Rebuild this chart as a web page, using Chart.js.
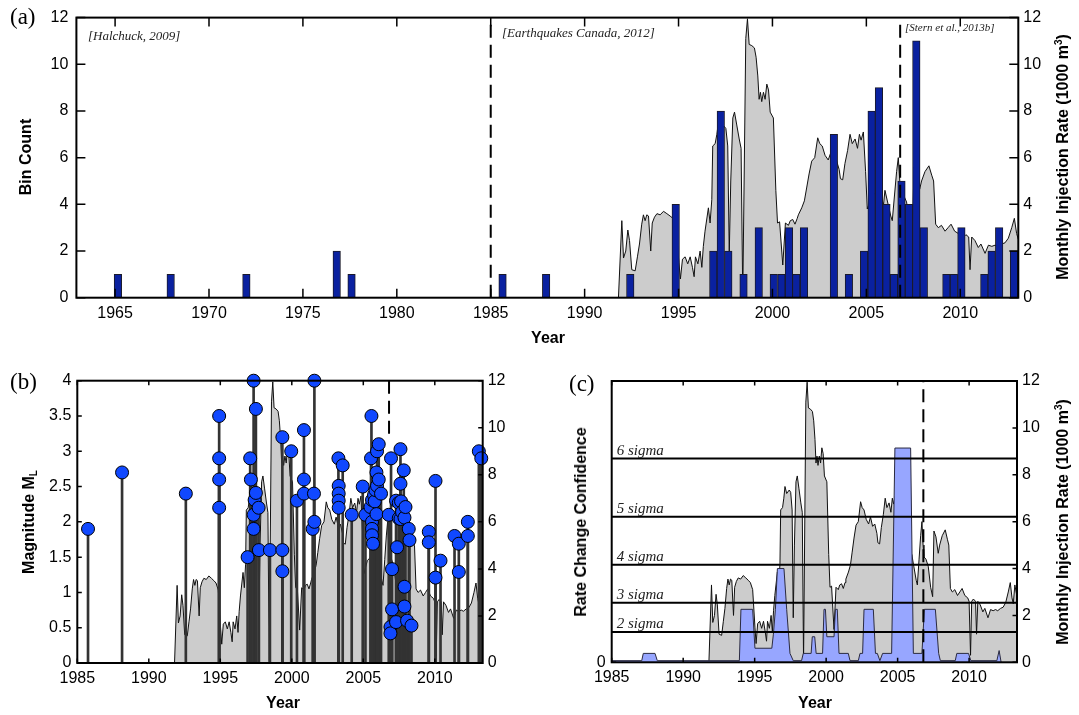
<!DOCTYPE html>
<html>
<head>
<meta charset="utf-8">
<script src="https://cdn.jsdelivr.net/npm/chart.js@4.4.1/dist/chart.umd.min.js"></script>
<style>
  body { margin: 0; width: 1079px; height: 715px; background: #fff; position: relative; overflow: hidden; font-family: 'Liberation Sans', Arial, sans-serif; }
  canvas { position: absolute; }
  .lbl { position: absolute; white-space: nowrap; line-height: 1; color: #000; }
  .panel { font-family: 'Liberation Serif', serif; font-size: 23px; }
  .ttl { font-weight: bold; font-size: 16px; transform: translate(-50%, -50%); }
  .rot { transform: translate(-50%, -50%) rotate(-90deg); }
  .cite { font-family: 'Liberation Serif', serif; font-style: italic; font-size: 13px; color: #222; }
  .sig { font-family: 'Liberation Serif', serif; font-style: italic; font-size: 15px; color: #222; }
  sup { font-size: 10px; vertical-align: 6px; }
  sub { font-size: 10px; vertical-align: -3px; }
</style>
</head>
<body>
<canvas id="chartA" width="1079" height="350" style="left:0;top:0"></canvas>
<canvas id="chartB" width="540" height="355" style="left:0;top:360px"></canvas>
<canvas id="chartC" width="539" height="355" style="left:540px;top:360px"></canvas>

<div class="lbl panel" style="left:10px;top:5px">(a)</div>
<div class="lbl panel" style="left:10px;top:370px">(b)</div>
<div class="lbl panel" style="left:569px;top:372px">(c)</div>

<div class="lbl cite" style="left:88px;top:29px">[Halchuck, 2009]</div>
<div class="lbl cite" style="left:502px;top:26px">[Earthquakes Canada, 2012]</div>
<div class="lbl cite" style="left:905px;top:22px;font-size:11px">[Stern et al., 2013b]</div>

<div class="lbl ttl rot" style="left:26px;top:157px">Bin Count</div>
<div class="lbl ttl" style="left:548px;top:338px">Year</div>
<div class="lbl ttl rot" style="left:1062px;top:157px">Monthly Injection Rate (1000 m<sup>3</sup>)</div>

<div class="lbl ttl rot" style="left:30px;top:522px">Magnitude M<sub>L</sub></div>
<div class="lbl ttl" style="left:283px;top:703px">Year</div>

<div class="lbl ttl rot" style="left:581px;top:522px">Rate Change Confidence</div>
<div class="lbl ttl" style="left:815px;top:703px">Year</div>
<div class="lbl ttl rot" style="left:1062px;top:522px">Monthly Injection Rate (1000 m<sup>3</sup>)</div>

<script>
// ---- data ----
const yearTicksA = [1965, 1970, 1975, 1980, 1985, 1990, 1995, 2000, 2005, 2010]
const yearTicksB = [1985, 1990, 1995, 2000, 2005, 2010]
const countTicks = [0, 2, 4, 6, 8, 10, 12]
const rateTicks = [0, 2, 4, 6, 8, 10, 12]
const magTicks = [0, 0.5, 1, 1.5, 2, 2.5, 3, 3.5, 4]
const confTicks = [0]

const catalogLines = [1985, 2006.8]

// histogram bins (centres, years) and counts
const binCenters = [1965.15, 1967.96, 1971.99, 1976.80, 1977.59, 1985.63, 1987.95, 1992.43, 1994.85, 1996.85,
  1997.25, 1997.65, 1998.46, 1999.27, 2000.07, 2000.48, 2000.88, 2001.27, 2001.68, 2003.27,
  2004.07, 2004.88, 2005.28, 2005.67, 2006.07, 2006.47, 2006.87, 2007.27, 2007.66, 2008.06,
  2009.26, 2009.66, 2010.06, 2011.28, 2011.67, 2012.07, 2012.86]
const binCounts = [1, 1, 1, 2, 1, 1, 1, 1, 4, 2,
  8, 2, 1, 3, 1, 1, 3, 1, 3, 7,
  1, 2, 8, 9, 4, 1, 5, 4, 11, 3,
  1, 1, 3, 1, 2, 3, 2]

// monthly injection rate (1000 m3)
const injYears = [1991.80, 1991.98, 1992.07, 1992.19, 1992.30, 1992.39, 1992.51, 1992.69, 1992.81, 1992.92,
  1993.04, 1993.13, 1993.22, 1993.31, 1993.40, 1993.52, 1993.60, 1993.72, 1993.85, 1994.02,
  1994.20, 1994.38, 1994.55, 1994.70, 1994.86, 1995.02, 1995.10, 1995.21, 1995.35, 1995.49,
  1995.62, 1995.74, 1995.83, 1995.90, 1996.03, 1996.15, 1996.24, 1996.32, 1996.41, 1996.59,
  1996.68, 1996.77, 1996.82, 1996.95, 1997.04, 1997.12, 1997.24, 1997.42, 1997.52, 1997.62,
  1997.70, 1997.78, 1997.89, 1997.98, 1998.10, 1998.23, 1998.33, 1998.42, 1998.58, 1998.67,
  1998.76, 1998.90, 1999.04, 1999.13, 1999.22, 1999.29, 1999.36, 1999.43, 1999.52, 1999.61,
  1999.70, 1999.79, 1999.88, 2000.05, 2000.18, 2000.27, 2000.38, 2000.55, 2000.69, 2000.85,
  2000.95, 2001.08, 2001.20, 2001.32, 2001.38, 2001.56, 2001.70, 2001.82, 2001.95, 2002.09,
  2002.25, 2002.41, 2002.52, 2002.65, 2002.80, 2002.97, 2003.10, 2003.25, 2003.40, 2003.55,
  2003.62, 2003.74, 2003.86, 2004.00, 2004.13, 2004.25, 2004.40, 2004.53, 2004.63, 2004.72,
  2004.84, 2004.96, 2005.05, 2005.28, 2005.51, 2005.75, 2005.91, 2005.99, 2006.13, 2006.30,
  2006.38, 2006.50, 2006.61, 2006.70, 2006.78, 2006.84, 2006.98, 2007.14, 2007.31, 2007.45,
  2007.54, 2007.68, 2007.84, 2007.94, 2008.12, 2008.33, 2008.48, 2008.58, 2008.69, 2008.83,
  2009.00, 2009.19, 2009.35, 2009.51, 2009.70, 2009.90, 2010.00, 2010.10, 2010.18, 2010.30,
  2010.45, 2010.52, 2010.61, 2010.78, 2010.96, 2011.10, 2011.32, 2011.50, 2011.68, 2011.85,
  2012.00, 2012.20, 2012.38, 2012.56, 2012.74, 2012.88, 2013.00, 2013.09, 2013.20, 2013.35]
const injRate = [0.0, 3.3, 1.7, 2.0, 2.9, 2.45, 1.2, 1.15, 1.75, 2.3,
  3.15, 3.55, 3.3, 3.55, 3.5, 2.0, 3.2, 3.45, 3.6, 3.55,
  3.7, 3.6, 3.5, 3.4, 3.1, 1.5, 0.8, 1.65, 1.75, 1.45,
  1.75, 1.3, 0.9, 1.75, 1.45, 2.0, 1.3, 2.2, 2.85, 3.85,
  3.2, 4.2, 6.5, 6.6, 7.0, 7.5, 7.2, 7.35, 7.25, 6.5,
  1.9, 5.0, 7.7, 7.95, 7.4, 6.8, 6.4, 0.05, 11.1, 11.95,
  10.85, 10.8, 10.7, 10.3, 9.5, 8.5, 8.8, 8.4, 8.8, 8.5,
  9.15, 8.9, 7.95, 7.7, 4.6, 3.2, 3.25, 1.4, 3.2, 3.1,
  3.3, 3.35, 3.15, 3.4, 3.55, 3.85, 4.15, 4.7, 5.3, 5.85,
  6.0, 6.85, 6.6, 6.5, 6.1, 5.9, 6.2, 5.8, 5.9, 5.5,
  5.1, 5.05, 5.75, 6.3, 7.0, 6.6, 6.8, 6.4, 7.0, 6.75,
  7.1, 5.4, 3.8, 4.35, 4.5, 4.5, 3.95, 4.6, 4.1, 3.5,
  3.3, 4.4, 5.4, 6.0, 5.0, 4.5, 4.4, 4.1, 3.2, 2.8,
  5.6, 5.35, 4.65, 5.0, 5.4, 5.65, 5.25, 5.0, 3.15, 3.0,
  3.1, 2.85, 3.0, 3.15, 2.85, 2.75, 2.6, 0.3, 2.6, 2.7,
  2.6, 1.2, 2.6, 2.45, 2.15, 2.3, 1.9, 2.25, 2.2, 2.25,
  2.2, 2.3, 2.35, 2.55, 3.0, 3.4, 2.75, 2.5, 3.3, 2.8]

// earthquakes since 1985: year and local magnitude
const eqYears = [1985.75, 1988.13, 1992.59, 1994.92, 1994.92, 1994.92, 1994.92,
  1996.91, 1997.09, 1997.14, 1997.33, 1997.33, 1997.33, 1997.40, 1997.49, 1997.49, 1997.68, 1997.70,
  1998.47, 1999.34, 1999.34, 1999.34, 1999.96, 2000.36, 2000.85, 2000.85, 2000.85,
  2001.46, 2001.55, 2001.58, 2001.58,
  2003.26, 2003.56, 2003.28, 2003.28, 2003.28, 2003.28, 2004.19, 2004.96, 2005.15,
  2005.50, 2005.54, 2005.57, 2005.61, 2005.61, 2005.61, 2005.61, 2005.68, 2005.75, 2005.80, 2005.85,
  2005.92, 2005.92, 2005.96, 2005.96, 2006.08, 2006.08, 2006.24,
  2006.78, 2006.90, 2006.90, 2006.94, 2007.01, 2007.01, 2007.29, 2007.29, 2007.36, 2007.48, 2007.48,
  2007.60, 2007.60, 2007.60, 2007.64, 2007.71, 2007.83, 2007.88, 2007.88, 2007.88, 2007.95,
  2008.06, 2008.18, 2008.23, 2008.37,
  2009.58, 2009.58, 2010.05, 2010.05, 2010.40, 2011.38, 2011.68, 2011.68, 2012.31, 2012.31,
  2013.08, 2013.25]
const eqMags = [1.9, 2.7, 2.4, 3.5, 2.9, 2.6, 2.2,
  1.5, 2.9, 2.6, 4.0, 2.1, 1.9, 2.31, 3.6, 2.41, 2.2, 1.6,
  1.6, 3.2, 1.6, 1.3, 3.0, 2.3, 3.3, 2.6, 2.4,
  1.9, 2.4, 4.0, 2.0,
  2.9, 2.8, 2.51, 2.4, 2.3, 2.2, 2.1, 2.5, 2.1,
  2.21, 2.9, 3.5, 2.31, 2.0, 1.9, 1.81, 1.69, 2.38, 2.29, 2.45,
  2.7, 2.11, 3.0, 2.51, 3.1, 2.6, 2.4,
  2.1, 0.51, 0.42, 2.9, 1.33, 0.76, 2.3, 0.58, 1.64, 2.27, 2.05,
  3.03, 2.54, 2.04, 2.29, 2.14, 2.73, 2.06, 1.08, 0.8, 2.21,
  0.6, 1.9, 1.74, 0.53,
  1.86, 1.71, 2.58, 1.21, 1.45, 1.8, 1.69, 1.29, 2.0, 1.8,
  3.0, 2.9]

// rate change confidence (same units as right axis)
const confYears = [1985.00, 1987.10, 1987.21, 1988.03, 1988.19, 1993.93, 1994.04, 1994.86, 1995.02, 1996.20,
  1996.31, 1996.45, 1996.59, 1997.05, 1997.24, 1997.47, 1997.70, 1998.28, 1998.40, 1998.95,
  1999.03, 1999.20, 1999.30, 1999.75, 1999.85, 1999.95, 2000.05, 2000.55, 2000.65, 2000.78,
  2000.90, 2001.55, 2001.67, 2002.25, 2002.37, 2002.55, 2002.65, 2003.30, 2003.45, 2003.58,
  2003.76, 2003.95, 2004.58, 2004.81, 2005.91, 2006.10, 2006.70, 2006.87, 2007.64, 2007.87,
  2007.99, 2009.03, 2009.14, 2009.96, 2010.12, 2011.94, 2012.10, 2012.24]
const confVals = [0.07, 0.07, 0.38, 0.38, 0.07, 0.07, 2.26, 2.26, 0.6, 0.6,
  1.2, 2.26, 4.0, 4.0, 2.26, 0.38, 0.07, 0.07, 0.38, 0.38,
  1.09, 1.09, 0.38, 0.38, 2.26, 2.26, 1.09, 1.09, 2.26, 2.26,
  0.38, 0.38, 0.07, 0.07, 0.38, 0.38, 2.26, 2.26, 0.38, 0.38,
  0.07, 0.38, 0.38, 9.14, 9.14, 0.38, 0.38, 2.26, 2.26, 0.38,
  0.07, 0.07, 0.38, 0.38, 0.07, 0.07, 0.5, 0.0]

const sigmaNames = ['2 sigma', '3 sigma', '4 sigma', '5 sigma', '6 sigma']
const sigmaLevels = [1.29, 2.54, 4.16, 6.21, 8.69]

// ---- helpers ----
const pts = (xs, ys) => xs.map((x, i) => ({ x: x, y: ys[i] }))
const tickFont = { family: "'Liberation Sans', Arial, sans-serif", size: 16 }

function yAxis(pos, list, max, width, pad) {
  return {
    type: 'linear', position: pos, min: 0, max: max,
    afterBuildTicks: (s) => { s.ticks = list.map((v) => ({ value: v })) },
    afterFit: (s) => { s.width = width },
    grid: { display: false, drawTicks: false },
    border: { display: false },
    ticks: { color: '#000', font: tickFont, padding: pad, autoSkip: false, callback: (v) => String(v) },
  }
}

function xAxis(min, max, list, height) {
  return {
    type: 'linear', position: 'bottom', min: min, max: max, offset: false,
    afterBuildTicks: (s) => { s.ticks = list.map((v) => ({ value: v })) },
    afterFit: (s) => { s.height = height },
    grid: { display: false, drawTicks: false },
    border: { display: false },
    ticks: { color: '#000', font: tickFont, padding: 6, autoSkip: false, maxRotation: 0, callback: (v) => String(v) },
  }
}

// MATLAB style box with inward ticks
const boxAxes = {
  id: 'boxAxes',
  afterDatasetsDraw(chart, args, opts) {
    const { ctx, chartArea: a, scales } = chart
    const len = opts.len
    ctx.save()
    ctx.strokeStyle = '#000'
    ctx.lineWidth = 1.5
    ctx.beginPath()
    scales.x.ticks.forEach((t) => {
      const p = scales.x.getPixelForValue(t.value)
      ctx.moveTo(p, a.bottom); ctx.lineTo(p, a.bottom - len)
      ctx.moveTo(p, a.top); ctx.lineTo(p, a.top + len)
    })
    scales.yL.ticks.forEach((t) => {
      const p = scales.yL.getPixelForValue(t.value)
      ctx.moveTo(a.left, p); ctx.lineTo(a.left + len, p)
    })
    scales.yR.ticks.forEach((t) => {
      const p = scales.yR.getPixelForValue(t.value)
      ctx.moveTo(a.right, p); ctx.lineTo(a.right - len, p)
    })
    ctx.stroke()
    ctx.lineWidth = 2
    ctx.strokeRect(a.left, a.top, a.right - a.left, a.bottom - a.top)
    ctx.restore()
  },
}

function baseOptions(top, len, scales) {
  return {
    responsive: false,
    animation: false,
    devicePixelRatio: 1,
    events: [],
    layout: { padding: { top: top, left: 0, right: 0, bottom: 0 } },
    plugins: { legend: { display: false }, tooltip: { enabled: false }, boxAxes: { len: len } },
    scales: scales,
  }
}

const greyArea = (axis) => ({
  type: 'line', data: pts(injYears, injRate), yAxisID: axis,
  fill: 'origin', backgroundColor: '#cccccc', borderColor: '#111', borderWidth: 1,
  pointRadius: 0, tension: 0, order: 5,
})

const dashed = (x, y0, y1, axis) => ({
  type: 'line', data: [{ x: x, y: y0 }, { x: x, y: y1 }], yAxisID: axis,
  borderColor: '#000', borderWidth: 2, borderDash: [13, 7], pointRadius: 0, order: 0,
})

// ---- (a) histogram + injection ----
new Chart(document.getElementById('chartA'), {
  type: 'bar',
  data: {
    datasets: [
      dashed(catalogLines[0], 0, 12, 'yL'),
      dashed(catalogLines[1], 0, 12, 'yL'),
      {
        type: 'bar', data: pts(binCenters, binCounts), yAxisID: 'yL',
        backgroundColor: '#0a21a0', borderColor: '#1a1a2a', borderWidth: 1,
        barThickness: 7.5, order: 1,
      },
      greyArea('yR'),
    ],
  },
  options: baseOptions(15, 9, {
    x: xAxis(1962.94, 2013.09, yearTicksA, 52.3),
    yL: yAxis('left', countTicks, 12, 76.4, 8),
    yR: yAxis('right', rateTicks, 12, 60.7, 5),
  }),
  plugins: [boxAxes],
})

// ---- (b) magnitudes ----
new Chart(document.getElementById('chartB'), {
  type: 'bar',
  data: {
    datasets: [
      {
        type: 'scatter', data: pts(eqYears, eqMags), yAxisID: 'yL',
        pointRadius: 6.5, pointBackgroundColor: '#1048ff', pointBorderColor: '#000',
        pointBorderWidth: 1, showLine: false, clip: false, order: 0,
      },
      {
        type: 'bar', data: pts(eqYears, eqMags), yAxisID: 'yL',
        backgroundColor: '#333', borderWidth: 0, barThickness: 2, order: 1,
      },
      dashed(catalogLines[1], 4, 3.25, 'yL'),
      greyArea('yR'),
    ],
  },
  options: baseOptions(20.7, 4.5, {
    x: xAxis(1985, 2013.35, yearTicksB, 52),
    yL: yAxis('left', magTicks, 4, 77.3, 6),
    yR: yAxis('right', rateTicks, 12, 57.3, 5),
  }),
  plugins: [boxAxes],
})

// ---- (c) rate change confidence ----
const sigmaSets = sigmaLevels.map((lv) => ({
  type: 'line', data: [{ x: 1985, y: lv }, { x: 2013.35, y: lv }], yAxisID: 'yL',
  borderColor: '#000', borderWidth: 2, pointRadius: 0, order: 1,
}))

const chartC = new Chart(document.getElementById('chartC'), {
  type: 'line',
  data: {
    datasets: [
      dashed(catalogLines[1], 0, 12, 'yR'),
      ...sigmaSets,
      {
        type: 'line', data: pts(confYears, confVals), yAxisID: 'yL',
        fill: 'origin', backgroundColor: '#97a6ff', borderColor: '#2a2a40', borderWidth: 1,
        pointRadius: 0, tension: 0, order: 2,
      },
      greyArea('yR'),
    ],
  },
  options: baseOptions(21, 4.5, {
    x: xAxis(1985, 2013.35, yearTicksB, 52.7),
    yL: yAxis('left', confTicks, 12, 71.7, 6),
    yR: yAxis('right', rateTicks, 12, 62, 5),
  }),
  plugins: [boxAxes],
})

// sigma labels placed from the chart's own scale
const area = chartC.chartArea
sigmaLevels.forEach((lv, i) => {
  const d = document.createElement('div')
  d.className = 'lbl sig'
  d.textContent = sigmaNames[i]
  d.style.left = (540 + area.left + 5) + 'px'
  d.style.top = (360 + chartC.scales.yL.getPixelForValue(lv) - 16) + 'px'
  document.body.appendChild(d)
})
</script>
</body>
</html>
